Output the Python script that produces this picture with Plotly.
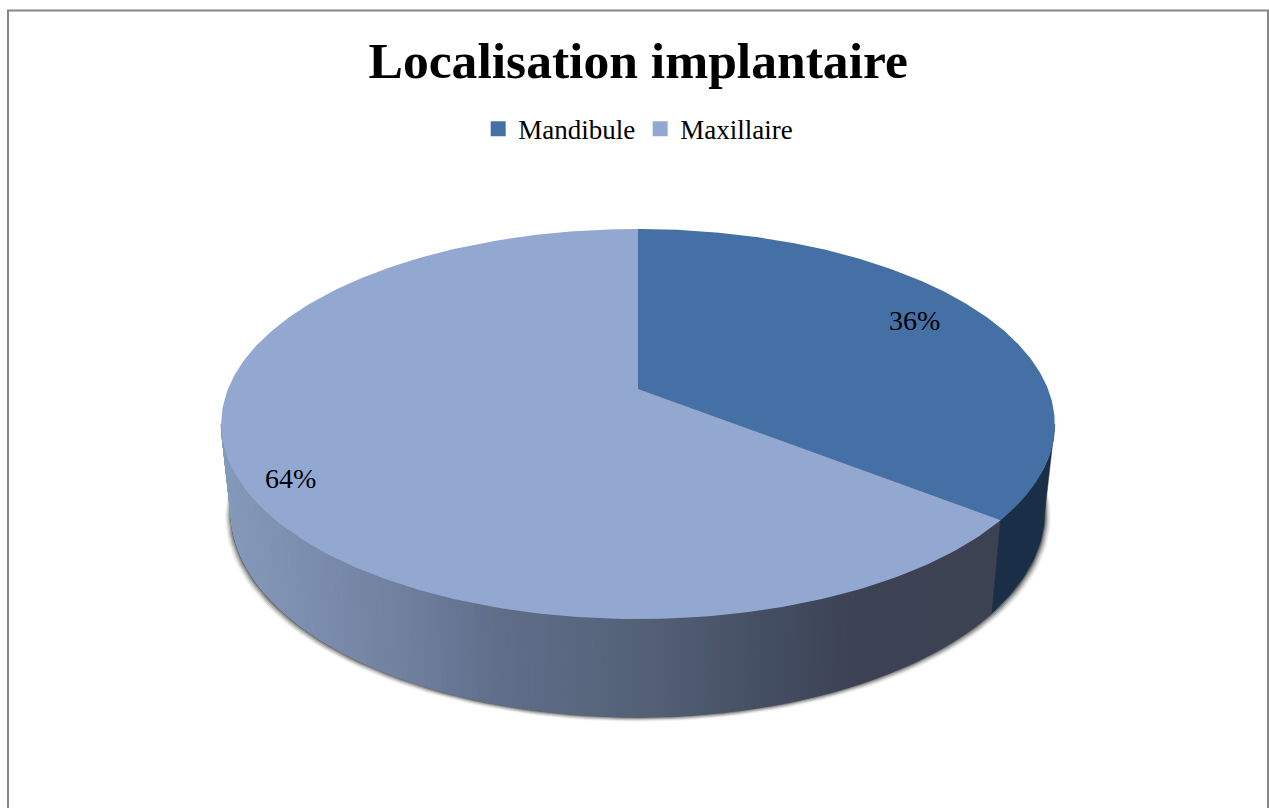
"""
Localisation implantaire: perspective 3D pie drawn with filled scatter traces.
"""
import numpy as np
import plotly.graph_objects as go

CATEGORIES = ["Mandibule", "Maxillaire"]
SHARES = [35.6, 64.4]
TITLE = "Localisation implantaire"

TOP_COLORS = ["#4570a6", "#93a8d0"]
DARK_WALL = "#1a2e48"
# wall shading of the big slice, from screen x to colour
WALL_X = [229, 400, 500, 640, 800, 850, 992]
WALL_RGB = [
    (134, 154, 187), (113, 129, 160), (96, 110, 138),
    (84, 98, 120), (65, 74, 94), (60, 67, 84), (61, 66, 82),
]
FONT = "Liberation Serif"

W, H = 1269, 808
APEX_X, APEX_Y = 638, 389
RADIUS = 410


def top_rim(theta_deg, r=1.0):
    """Project a point of the unit disc (clockwise from 12 o'clock) on the screen."""
    t = np.radians(theta_deg)
    u, v = r * np.sin(t), -r * np.cos(t)
    den = 1 - 0.1795 * v
    return APEX_X + RADIUS * u / den, (118.9 * v + APEX_Y) / den


def low_rim(theta_deg):
    x, y = top_rim(theta_deg)
    return APEX_X + (x - APEX_X) * 0.976, 512 + (y - 424) * 1.051


def wall_color(x):
    rgb = [np.interp(x, WALL_X, [c[i] for c in WALL_RGB]) for i in range(3)]
    return "rgb(%d,%d,%d)" % tuple(rgb)


def poly(xs, ys, color, opacity=1.0, line=0.0):
    return go.Scatter(
        x=list(xs), y=list(ys), mode="lines", fill="toself", fillcolor=color,
        line=dict(color=color, width=line), opacity=opacity,
        hoverinfo="skip", showlegend=False,
    )


fig = go.Figure()

boundary = SHARES[0] / sum(SHARES) * 360

# soft shadow under the lower rim
angles = np.linspace(0, 360, 181)
lx, ly = low_rim(angles)
for grow, alpha in [(6.0, 0.05), (4.8, 0.09), (3.6, 0.14), (2.4, 0.20), (1.2, 0.30)]:
    sx = APEX_X + (lx - APEX_X) * (1 + grow / 400)
    fig.add_trace(poly(sx, ly + grow * 0.8, "#000000", alpha))

# side wall, front part only
wall_start, wall_end = 100.4, 259.6
edges = np.arange(boundary, wall_end, 0.8).tolist() + [wall_end]
for a, b in zip(edges[:-1], edges[1:]):
    ts = np.array([a, b])
    tx, ty = top_rim(ts)
    bx, by = low_rim(ts)
    fig.add_trace(poly(
        [tx[0], tx[1], bx[1], bx[0], tx[0]], [ty[0], ty[1], by[1], by[0], ty[0]],
        wall_color((tx.mean() + bx.mean()) / 2), line=1.0,
    ))
ts = np.linspace(wall_start, boundary, 30)
tx, ty = top_rim(ts)
bx, by = low_rim(ts)
fig.add_trace(poly(
    np.r_[tx, bx[::-1], tx[0]], np.r_[ty, by[::-1], ty[0]], DARK_WALL, line=0.5,
))

# top faces
start = 0.0
for share, color in zip(SHARES, TOP_COLORS):
    end = start + share / sum(SHARES) * 360
    ts = np.linspace(start, end, 240)
    rx, ry = top_rim(ts)
    fig.add_trace(poly(np.r_[APEX_X, rx, APEX_X], np.r_[APEX_Y, ry, APEX_Y], color))
    start = end

# legend entries
for name, color in zip(CATEGORIES, TOP_COLORS):
    fig.add_trace(go.Scatter(
        x=[None], y=[None], mode="markers", name=name,
        marker=dict(symbol="square", size=15, color=color),
    ))

for share, (lab_x, lab_y) in zip(SHARES, [(914, 320), (290, 478)]):
    fig.add_annotation(
        x=lab_x, y=lab_y, text=f"{share:.0f}%", showarrow=False,
        font=dict(family=FONT, size=28, color="#000000"),
    )

# chart frame, bottom edge runs off the page
fig.add_shape(
    type="rect", x0=8, y0=10.5, x1=1268, y1=830,
    line=dict(color="#868686", width=2), layer="below",
)

fig.update_layout(
    width=W, height=H,
    margin=dict(l=0, r=0, t=0, b=0),
    paper_bgcolor="#ffffff", plot_bgcolor="#ffffff",
    title=dict(
        text=f"<b>{TITLE}</b>", x=0.5029, xanchor="center", y=0.926, yanchor="middle",
        font=dict(family=FONT, size=51.6, color="#000000"),
    ),
    legend=dict(
        orientation="h", x=0.5029, xanchor="center", y=0.84, yanchor="middle",
        font=dict(family=FONT, size=27, color="#000000"),
        itemclick=False, itemdoubleclick=False,
    ),
    xaxis=dict(range=[0, W], visible=False, fixedrange=True),
    yaxis=dict(range=[H, 0], visible=False, fixedrange=True),
)

fig.write_html(
    "out.html",
    config={"displayModeBar": False},
    post_script="document.body.style.margin = '0';",
)
